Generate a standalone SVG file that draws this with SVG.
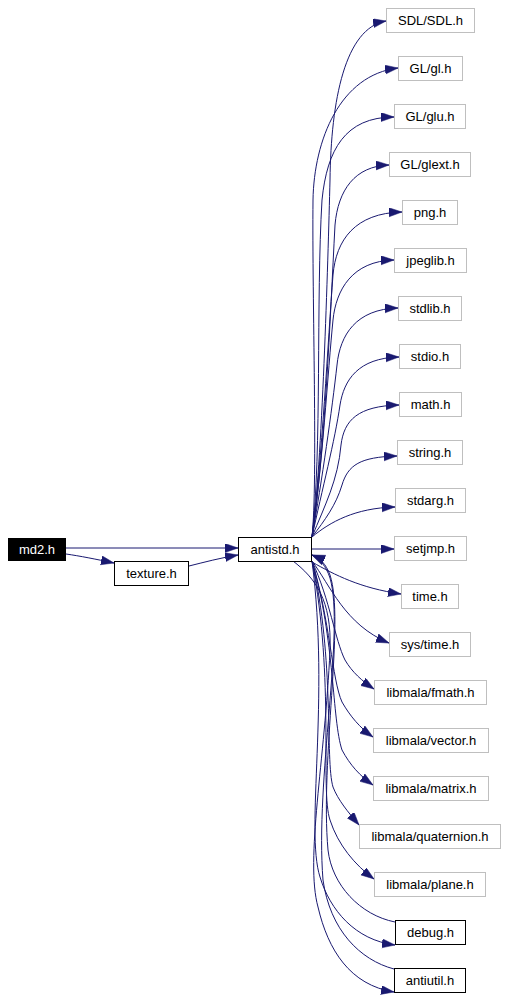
<svg xmlns="http://www.w3.org/2000/svg" width="508" height="999" viewBox="0 0 508 999">
<defs>
<marker id="a" markerUnits="userSpaceOnUse" markerWidth="14" markerHeight="10" refX="13" refY="4.5" orient="auto">
<path d="M0,0 L13,4.5 L0,9 z" fill="#191970" stroke="#191970" stroke-width="0.5"/>
</marker>
<style>
text{font-family:"Liberation Sans",Arial,Helvetica,sans-serif;font-size:13px;text-anchor:middle;fill:#000}
.ext rect{fill:#fff;stroke:#bfbfbf;stroke-width:1}
.int rect{fill:#fff;stroke:#000;stroke-width:1}
#edges path{fill:none;stroke:#191970;stroke-width:1;marker-end:url(#a)}
</style>
</defs>
<rect width="508" height="999" fill="#fff"/>
<g id="edges">
<path d="M66,548 L238,548"/>
<path d="M66,554 C80,556 95,559 114,563"/>
<path d="M189,566 C205,562 220,558 238,555"/>
<path d="M312,537 C322,470 328,260 330,180 C331,100 345,28 386,21"/>
<path d="M312,537 C318,480 312,300 313,200 C314,140 340,75 398,68"/>
<path d="M312,537 C322,450 316,300 322,200 C327,150 345,117 394,117"/>
<path d="M312,537 C325,450 330,320 335,225 C338,190 355,166 389,165"/>
<path d="M312,537 C322,460 328,340 333,275 C336,240 355,213 402,212"/>
<path d="M312,537 C322,470 328,370 333,320 C336,290 352,261 394,260"/>
<path d="M312,537 C322,480 332,410 337,365 C340,335 356,309 398,308"/>
<path d="M312,537 C322,490 335,440 340,405 C344,380 358,358 399,357"/>
<path d="M312,537 C325,505 338,480 341,445 C344,420 358,406 399,405"/>
<path d="M312,537 C325,520 336,505 342,485 C348,465 360,457 397,456"/>
<path d="M312,537 C330,522 355,508 395,507"/>
<path d="M312,549 L394,549"/>
<path d="M312,562 C335,575 360,588 401,594"/>
<path d="M312,561 C330,585 345,625 389,643"/>
<path d="M312,561 C330,600 335,640 345,660 C352,672 362,681 374,689"/>
<path d="M312,561 C330,620 332,680 342,702 C350,716 360,728 373,737"/>
<path d="M312,561 C335,640 332,720 342,750 C350,765 360,776 373,785"/>
<path d="M312,561 C335,660 325,760 333,787 C338,800 348,812 359,825"/>
<path d="M312,561 C335,680 320,790 330,820 C338,845 355,865 374,879"/>
<path d="M312,561 C330,700 305,830 320,877 C330,910 355,940 395,945"/>
<path d="M293,561 C315,578 332,600 330,650 C325,760 305,860 318,907 C328,950 350,985 394,992"/>
<path d="M395,922 C360,915 332,885 328,850 C320,760 345,620 330,575 C326,564 320,558 312,555"/>
<path d="M394,969 C360,960 330,930 323,880 C315,780 345,630 330,578 C326,566 320,559 312,555"/>
</g>
<g id="md2"><rect x="8" y="538" width="58" height="23" fill="#000"/><text x="37" y="554" style="fill:#fff">md2.h</text></g>
<g id="texture" class="int"><rect x="114.5" y="561.5" width="74" height="24"/><text x="151.5" y="578">texture.h</text></g>
<g id="antistd" class="int"><rect x="238.5" y="537.5" width="73" height="24"/><text x="275" y="554">antistd.h</text></g>
<g id="sdl" class="ext"><rect x="386.5" y="8.5" width="88" height="24"/><text x="430.5" y="25">SDL/SDL.h</text></g>
<g id="gl" class="ext"><rect x="398.5" y="56.5" width="64" height="24"/><text x="430.5" y="73">GL/gl.h</text></g>
<g id="glu" class="ext"><rect x="394.5" y="104.5" width="71" height="24"/><text x="430" y="121">GL/glu.h</text></g>
<g id="glext" class="ext"><rect x="389.5" y="152.5" width="81" height="24"/><text x="430" y="169">GL/glext.h</text></g>
<g id="png" class="ext"><rect x="402.5" y="200.5" width="55" height="24"/><text x="430" y="217">png.h</text></g>
<g id="jpeglib" class="ext"><rect x="394.5" y="248.5" width="72" height="24"/><text x="430.5" y="265">jpeglib.h</text></g>
<g id="stdlib" class="ext"><rect x="398.5" y="296.5" width="63" height="24"/><text x="430" y="313">stdlib.h</text></g>
<g id="stdio" class="ext"><rect x="399.5" y="344.5" width="61" height="24"/><text x="430" y="361">stdio.h</text></g>
<g id="math" class="ext"><rect x="399.5" y="392.5" width="62" height="24"/><text x="430.5" y="409">math.h</text></g>
<g id="string" class="ext"><rect x="397.5" y="440.5" width="65" height="24"/><text x="430" y="457">string.h</text></g>
<g id="stdarg" class="ext"><rect x="395.5" y="488.5" width="70" height="24"/><text x="430.5" y="505">stdarg.h</text></g>
<g id="setjmp" class="ext"><rect x="394.5" y="536.5" width="72" height="24"/><text x="430.5" y="553">setjmp.h</text></g>
<g id="time" class="ext"><rect x="401.5" y="584.5" width="57" height="24"/><text x="430" y="601">time.h</text></g>
<g id="systime" class="ext"><rect x="389.5" y="632.5" width="81" height="24"/><text x="430" y="649">sys/time.h</text></g>
<g id="fmath" class="ext"><rect x="374.5" y="680.5" width="112" height="24"/><text x="430.5" y="697">libmala/fmath.h</text></g>
<g id="vector" class="ext"><rect x="373.5" y="728.5" width="115" height="24"/><text x="431" y="745">libmala/vector.h</text></g>
<g id="matrix" class="ext"><rect x="373.5" y="776.5" width="115" height="24"/><text x="431" y="793">libmala/matrix.h</text></g>
<g id="quaternion" class="ext"><rect x="359.5" y="824.5" width="141" height="24"/><text x="430" y="841">libmala/quaternion.h</text></g>
<g id="plane" class="ext"><rect x="374.5" y="872.5" width="111" height="24"/><text x="430" y="889">libmala/plane.h</text></g>
<g id="debug" class="int"><rect x="395.5" y="920.5" width="70" height="24"/><text x="430.5" y="937">debug.h</text></g>
<g id="antiutil" class="int"><rect x="394.5" y="968.5" width="71" height="24"/><text x="430" y="985">antiutil.h</text></g>
</svg>
